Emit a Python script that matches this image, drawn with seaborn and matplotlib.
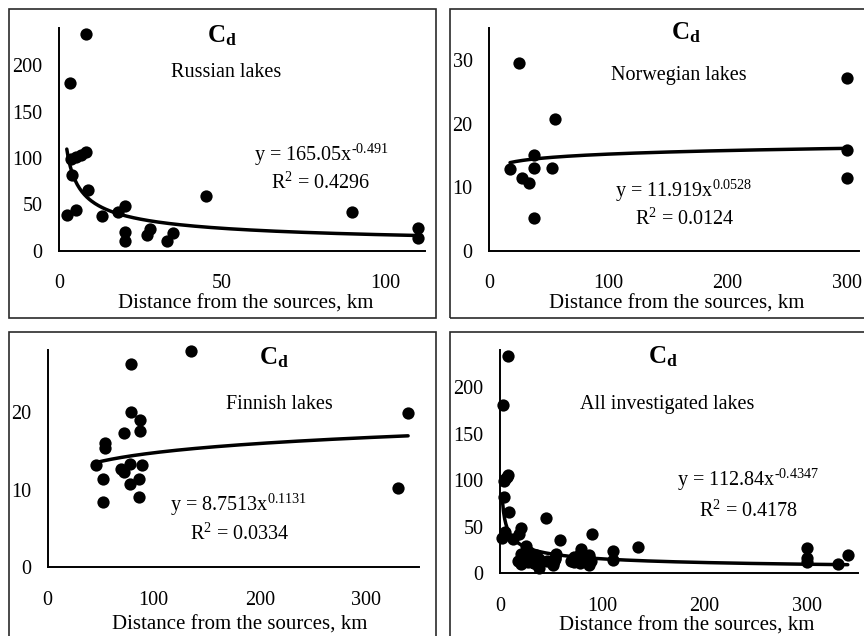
import numpy as np
import pandas as pd
import matplotlib
matplotlib.use("Agg")
import matplotlib.pyplot as plt
import seaborn as sns
from matplotlib.patches import Rectangle
from matplotlib.ticker import MultipleLocator, FuncFormatter

sns.set_theme(style="white")
plt.rcParams["font.family"] = ["Liberation Serif", "DejaVu Serif"]
plt.rcParams["mathtext.fontset"] = "custom"
plt.rcParams["mathtext.rm"] = "Liberation Serif"
plt.rcParams["mathtext.it"] = "Liberation Serif:italic"
plt.rcParams["mathtext.bf"] = "Liberation Serif:bold"

# Cd concentration vs distance from the sources (km)
rus_km = [2.3, 3.8, 5.1, 3.5, 5.2, 6.8, 8.3, 8.2, 3.3, 8.9, 13.0, 18.1, 20.2,
          20.2, 20.2, 26.8, 28.0, 33.0, 35.0, 45.2, 90.0, 110.0, 110.0]
rus_cd = [38, 82, 44, 99, 101, 103, 106, 234, 181, 66, 37, 42, 48,
          20, 10, 17, 23, 11, 19, 59, 42, 24, 14]

nor_km = [17.4, 25.2, 27.2, 33.5, 37.7, 37.7, 37.7, 52.8, 54.8, 300, 300, 300]
nor_cd = [12.8, 29.5, 11.5, 10.7, 13.0, 15.1, 5.2, 13.0, 20.7, 27.1, 15.8, 11.5]

fin_km = [45.7, 52.0, 52.0, 54.2, 54.2, 69.3, 72.4, 72.2, 77.8, 77.8,
          78.5, 78.8, 86.6, 86.6, 87.3, 87.3, 89.4, 135.2, 330.3, 340.0]
fin_cd = [13.1, 11.3, 8.4, 16.0, 15.4, 12.6, 12.2, 17.3, 13.3, 10.7,
          20.0, 26.2, 11.3, 9.1, 17.6, 19.0, 13.1, 27.8, 10.2, 19.9]

extra_km = [58.6]
extra_cd = [35.5]

# power-law trendlines: coefficient, exponent, R^2
fit_coef = [165.05, 11.919, 8.7513, 112.84]
fit_exp = [-0.491, 0.0528, 0.1131, -0.4347]
fit_r2 = ["0.4296", "0.0124", "0.0334", "0.4178"]
coef_txt = ["165.05", "11.919", "8.7513", "112.84"]
exp_txt = ["-0.491", "0.0528", "0.1131", "-0.4347"]
names = ["Russian lakes", "Norwegian lakes", "Finnish lakes", "All investigated lakes"]

all_km = rus_km + nor_km + fin_km + extra_km
all_cd = rus_cd + nor_cd + fin_cd + extra_cd
datasets = [(rus_km, rus_cd), (nor_km, nor_cd), (fin_km, fin_cd), (all_km, all_cd)]

W, H = 864, 636
fig = plt.figure(figsize=(W / 100, H / 100), dpi=100)
fig.patch.set_facecolor("white")

FS = 14.5

# panel frames (pixel boxes)
frames = [(9, 9, 436, 318), (450, 9, 877, 318), (9, 332, 436, 641), (450, 332, 877, 641)]
for x0, y0, x1, y1 in frames:
    fig.patches.append(Rectangle((x0 / W, 1 - y1 / H), (x1 - x0) / W, (y1 - y0) / H,
                                 transform=fig.transFigure, fill=False,
                                 edgecolor="#2a2a2a", linewidth=1.2))

# axes placement in pixels: left, right, bottom(y=0), top
ax_px = [(59.3, 425.0, 250.7, 28.3), (489.3, 858.7, 250.7, 28.3),
         (47.7, 418.7, 567.3, 349.7), (500.0, 858.0, 573.0, 350.3)]
xlims = [(0, 112.3), (0, 310), (0, 350), (0, 350)]
ylims = [(0, 240), (0, 35), (0, 28), (0, 240)]
xsteps = [(10, 50), (50, 100), (50, 100), (50, 100)]
ysteps = [(25, 50), (5, 10), (5, 10), (25, 50)]

# text anchors (pixel x center, baseline y)
cd_pos = [(222, 42.7), (686, 39.3), (274, 364.7), (663, 363.7)]
name_pos = [(226, 77.3), (679, 80.0), (279, 408.7), (667, 408.7)]
eq_pos = [(321, 160.7), (684, 196.7), (239, 511.3), (748.5, 486.3)]
r2_pos = [(321, 189.0), (684.5, 225.0), (240, 539.7), (748.3, 517.0)]
xl_pos = [(245.5, 308.3), (676.5, 308.3), (240, 629.7), (686.7, 630.7)]


def every(step):
    def f(v, p):
        r = v / step
        return f"{v:g}" if abs(r - round(r)) < 1e-6 else ""
    return FuncFormatter(f)


def ptext(x, y, s, **kw):
    fig.text(x / W, 1 - y / H, s, ha="center", va="baseline", color="black", **kw)


for i, (km, cd) in enumerate(datasets):
    l, r, b, t = ax_px[i]
    ax = fig.add_axes([l / W, 1 - b / H, (r - l) / W, (b - t) / H])
    ax.set_facecolor("none")

    df = pd.DataFrame({"km": km, "cd": cd})
    sns.scatterplot(data=df, x="km", y="cd", ax=ax, color="black", s=78,
                    linewidth=0, clip_on=False, legend=False, zorder=3)

    xs = np.linspace(min(km), max(km), 300)
    ys = fit_coef[i] * xs ** fit_exp[i]
    sns.lineplot(x=xs, y=ys, ax=ax, color="black", linewidth=2.5,
                 estimator=None, sort=False, zorder=4)

    ax.set_xlim(*xlims[i])
    ax.set_ylim(*ylims[i])
    ax.xaxis.set_major_locator(MultipleLocator(xsteps[i][0]))
    ax.xaxis.set_major_formatter(every(xsteps[i][1]))
    ax.yaxis.set_major_locator(MultipleLocator(ysteps[i][0]))
    ax.yaxis.set_major_formatter(every(ysteps[i][1]))
    ax.set_xlabel("")
    ax.set_ylabel("")
    for s in ["top", "right"]:
        ax.spines[s].set_visible(False)
    for s in ["left", "bottom"]:
        ax.spines[s].set_color("black")
        ax.spines[s].set_linewidth(1.4)
    ax.tick_params(axis="both", direction="out", length=5, width=1.2, color="black",
                   labelsize=FS, labelcolor="black")
    ax.tick_params(axis="x", pad=12)
    ax.tick_params(axis="y", pad=7)
    ax.grid(False)

    ptext(*cd_pos[i], r"$\mathbf{C}_{\mathbf{d}}$", fontsize=18)
    ptext(*name_pos[i], names[i], fontsize=FS)
    ptext(*eq_pos[i], "y = " + coef_txt[i] + r"x$^{\mathregular{\text{" + exp_txt[i] + "}}}$",
          fontsize=FS)
    ptext(*r2_pos[i], r"R$^{\mathregular{2}}$ = " + fit_r2[i], fontsize=FS)
    ptext(*xl_pos[i], "Distance from the sources, km", fontsize=15)

fig.savefig("out.png", dpi=100, facecolor="white")
